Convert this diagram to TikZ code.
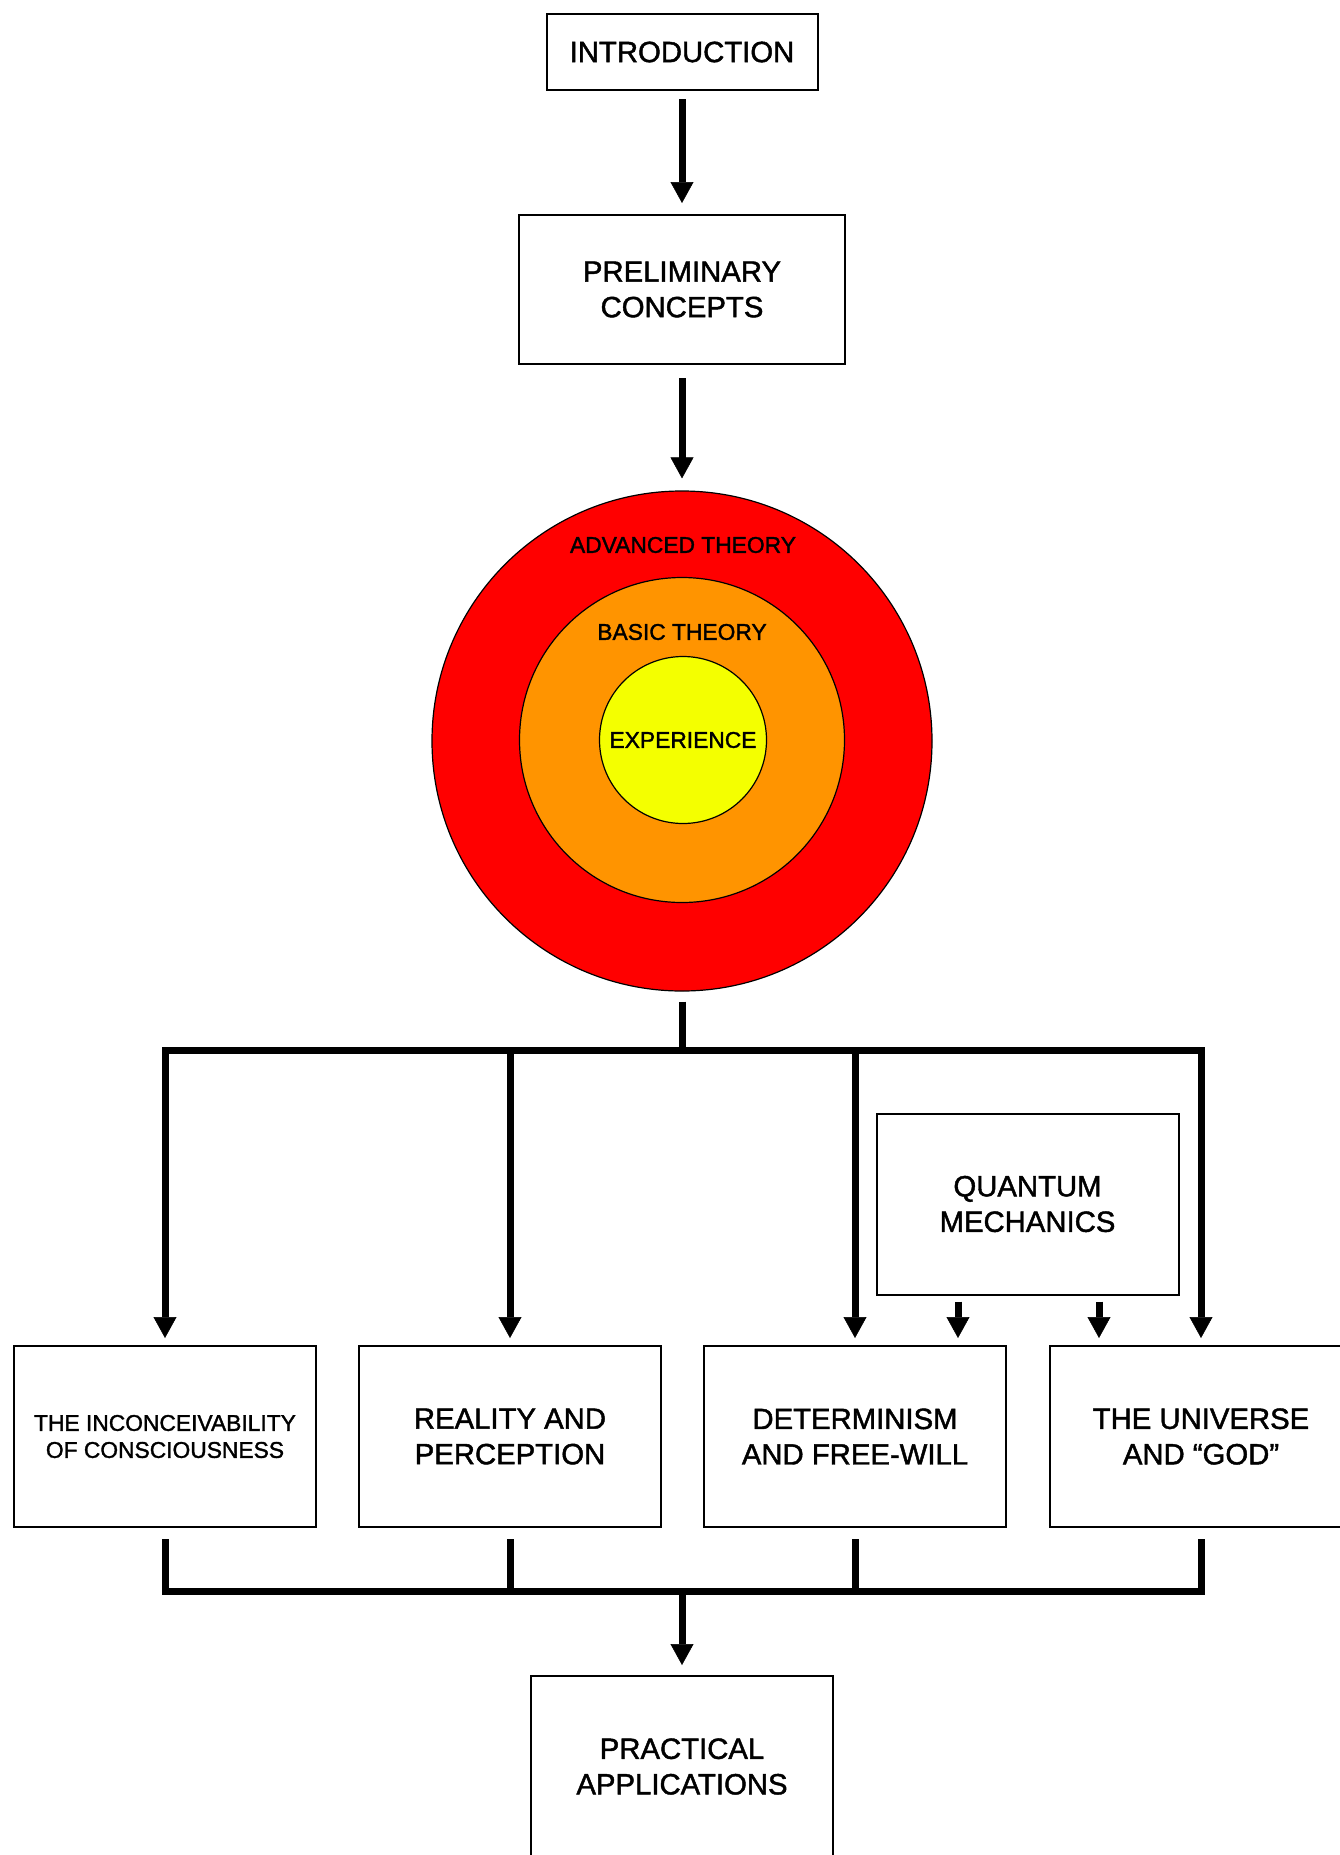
\documentclass[tikz,border=0pt]{standalone}
\usepackage{fontspec}
\setmainfont{Liberation Sans}[FakeBold=1.5]
\usetikzlibrary{arrows.meta}
\newcommand\bigtxt{\fontsize{29.3}{35.5}\selectfont}
\newcommand\smalltxt{\fontsize{22.8}{27}\selectfont}
\definecolor{ringred}{HTML}{FF0000}
\definecolor{ringorange}{HTML}{FF9400}
\definecolor{ringyellow}{HTML}{F4FF00}
\tikzset{
	every box/.style={
		draw,
		line width=2pt,
		align=center,
		font=\bigtxt,
		minimum width=302pt,
		minimum height=181pt },
	box 1/.style={
		font=\smalltxt },
	ring/.style={
		circle,
		draw,
		line width=1.2pt,
		inner sep=0pt },
	link/.style={
		line width=7pt,
		-{Triangle[width=23pt,length=21pt,line width=0.5pt]} },
	bar/.style={
		line width=7pt },
}

\begin{document}
\begin{tikzpicture}[x=1pt, y=-1pt]
	\useasboundingbox (0,0) rectangle (1340,1855);

		\node [every box/.try, minimum width=271pt, minimum height=76pt] (intro) at (682,52) {INTRODUCTION};
		\node [every box/.try, minimum width=326pt, minimum height=149pt] (prelim) at (682,289.5) {PRELIMINARY\\CONCEPTS};

		% rings
		\node [ring, fill=ringred, minimum size=500pt] (advanced) at (682,741) {};
		\node [ring, fill=ringorange, minimum size=325pt] (basic) at (682,740) {};
		\node [ring, fill=ringyellow, minimum size=167pt, font=\smalltxt] (experience) at (683,740) {EXPERIENCE};
		\node [font=\smalltxt] (advanced-label) at (683,545) {ADVANCED THEORY};
		\node [font=\smalltxt] (basic-label) at (682,632) {BASIC THEORY};

		\foreach \x/\l [count=\i] in {165/{THE INCONCEIVABILITY\\OF CONSCIOUSNESS},510/{REALITY AND\\PERCEPTION},855/{DETERMINISM\\AND FREE-WILL},1201/{THE UNIVERSE\\AND “GOD”}}
		\node [every box/.try, box \i/.try] (topic-\i) at (\x,1436.5) {\l};

		\node [every box/.try] (quantum) at (1027.5,1204) {QUANTUM\\MECHANICS};
		\node [every box/.try] (practical) at (682,1766.5) {PRACTICAL\\APPLICATIONS};

		\coordinate (split) at (682,1050);
		\coordinate (join) at (682,1591);

		\draw [link, shorten <=8pt, shorten >=11pt] (intro) -- (prelim);
		\draw [link, shorten <=13pt, shorten >=12pt] (prelim) -- (advanced);
		\draw [bar, shorten <=10pt] (advanced) -- (split);

		\foreach \i in {1,...,4}
		\draw [link, shorten >=7pt] (split) -| (topic-\i);

		\draw [link, shorten <=6pt, shorten >=7pt] ([xshift=-69.5pt]quantum.south) -- ([xshift=-69.5pt]quantum.south |- topic-3.north);
		\draw [link, shorten <=6pt, shorten >=7pt] ([xshift=71.5pt]quantum.south) -- ([xshift=71.5pt]quantum.south |- topic-4.north);

		\foreach \i in {1,...,4}
		\draw [bar, shorten <=11pt] (topic-\i) |- (join);

		\draw [link, shorten >=10pt] (join) -- (practical);
	\end{tikzpicture}
\end{document}
